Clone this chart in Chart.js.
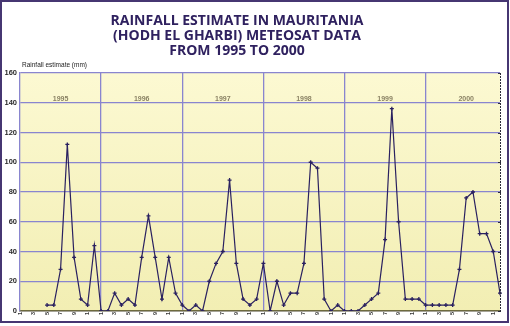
<!DOCTYPE html>
<html>
<head>
<meta charset="utf-8">
<script src="https://cdn.jsdelivr.net/npm/chart.js@4.4.1/dist/chart.umd.min.js"></script>
<style>
  html, body { margin: 0; padding: 0; background: #fff; }
  #wrap { width: 510px; height: 326px; position: relative; }
</style>
</head>
<body>
<div id="wrap"><canvas id="rain" width="510" height="326"></canvas></div>
<script>
// monthly rainfall estimate (mm), one array per year
var years = [1995, 1996, 1997, 1998, 1999, 2000];
var months = [1, 2, 3, 4, 5, 6, 7, 8, 9, 10, 11, 12];
var r1995 = [null, null, null, null, 4, 4, 28, 112, 36, 8, 4, 44];
var r1996 = [0, 0, 12, 4, 8, 4, 36, 64, 36, 8, 36, 12];
var r1997 = [4, 0, 4, 0, 20, 32, 40, 88, 32, 8, 4, 8];
var r1998 = [32, 0, 20, 4, 12, 12, 32, 100, 96, 8, 0, 4];
var r1999 = [0, 0, 0, 4, 8, 12, 48, 136, 60, 8, 8, 8];
var r2000 = [4, 4, 4, 4, 4, 28, 76, 80, 52, 52, 40, 12];
var yTicks = [0, 20, 40, 60, 80, 100, 120, 140, 160];

var labels = [];
years.forEach(function(y){
    months.forEach(function(m){ labels.push(m); });
});
var values = [].concat(r1995, r1996, r1997, r1998, r1999, r2000);

var gridColor = '#8985cf';

// frame, titles, background and year captions
var decor = {
    id: 'decor',
    beforeDraw: function(chart){
        var c = chart.ctx, a = chart.chartArea;
        c.save();
        var g = c.createLinearGradient(0, a.top, 0, a.bottom);
        g.addColorStop(0, '#fcf9d2');
        g.addColorStop(1, '#f2eeb3');
        c.fillStyle = g;
        c.fillRect(a.left, a.top, a.right - a.left, a.bottom - a.top);
        c.restore();
    },
    afterDraw: function(chart){
        var c = chart.ctx, a = chart.chartArea;
        var xs = chart.scales.x, ys = chart.scales.y;
        c.save();
        // title
        c.fillStyle = '#2f215f';
        c.font = 'bold 14px "Open Sans"';
        c.textAlign = 'center';
        c.textBaseline = 'alphabetic';
        c.fillText('RAINFALL ESTIMATE IN MAURITANIA', 237, 24.5);
        c.fillText('(HODH EL GHARBI) METEOSAT DATA', 237, 40);
        c.fillText('FROM 1995 TO 2000', 237, 55);
        // axis title
        c.fillStyle = '#222';
        c.font = '6.5px "Liberation Sans"';
        c.textAlign = 'left';
        c.fillText('Rainfall estimate (mm)', 22, 67);
        // year captions
        c.fillStyle = '#8a8264';
        c.font = 'bold 7px "Liberation Sans"';
        c.textAlign = 'center';
        var step = xs.getPixelForValue(1) - xs.getPixelForValue(0);
        years.forEach(function(y, i){
            var x0 = xs.getPixelForValue(i * 12);
            c.fillText(String(y), x0 + step * 6, 101);
        });
        // right axis line with small ticks
        c.strokeStyle = '#2b2a3a';
        c.lineWidth = 1;
        c.setLineDash([2, 1]);
        c.beginPath();
        c.moveTo(a.right + 0.5, a.top);
        c.lineTo(a.right + 0.5, a.bottom);
        c.stroke();
        c.setLineDash([]);
        yTicks.forEach(function(v){
            var y = Math.round(ys.getPixelForValue(v)) + 0.5;
            c.beginPath();
            c.moveTo(a.right - 2, y);
            c.lineTo(a.right + 1, y);
            c.stroke();
        });
        // outer frame
        c.strokeStyle = '#463672';
        c.lineWidth = 2;
        c.strokeRect(1, 1, 507, 321);
        c.restore();
    }
};

new Chart(document.getElementById('rain'), {
    type: 'line',
    data: {
        labels: labels,
        datasets: [{
            data: values,
            borderColor: '#2a2160',
            borderWidth: 1.2,
            pointStyle: 'cross',
            pointRadius: 2,
            pointBorderWidth: 1.3,
            pointBorderColor: '#2a2160',
            pointBackgroundColor: '#2a2160',
            tension: 0,
            spanGaps: false
        }]
    },
    options: {
        responsive: false,
        animation: false,
        events: [],
        layout: { padding: { left: 0, right: 10, top: 73, bottom: 11 } },
        plugins: { legend: { display: false }, tooltip: { enabled: false } },
        scales: {
            x: {
                type: 'category',
                offset: false,
                afterFit: function(s){ s.height = 4; },
                grid: {
                    drawTicks: false,
                    lineWidth: 1.3,
                    color: function(ctx){
                        return (ctx.index % 12 === 0 && ctx.index > 0) ? gridColor : 'rgba(0,0,0,0)';
                    }
                },
                border: { color: '#6d6a3e', width: 1.5 },
                ticks: {
                    autoSkip: false,
                    minRotation: 90,
                    maxRotation: 90,
                    padding: 1,
                    color: '#333',
                    font: { family: 'Liberation Sans', size: 5.5, weight: 'bold' },
                    callback: function(v, i){
                        var m = labels[i];
                        return (m % 2 === 1) ? String(m) : '';
                    }
                }
            },
            y: {
                min: 0,
                max: 160,
                afterFit: function(s){ s.width = 20; },
                afterBuildTicks: function(s){
                    s.ticks = yTicks.map(function(v){ return { value: v }; });
                },
                grid: { color: gridColor, lineWidth: 1.3, drawTicks: false },
                border: { color: gridColor, width: 1.3 },
                ticks: {
                    padding: 3,
                    color: '#2a2a2a',
                    font: { family: 'Liberation Sans', size: 7.5, weight: 'bold' }
                }
            }
        }
    },
    plugins: [decor]
});
</script>
</body>
</html>
